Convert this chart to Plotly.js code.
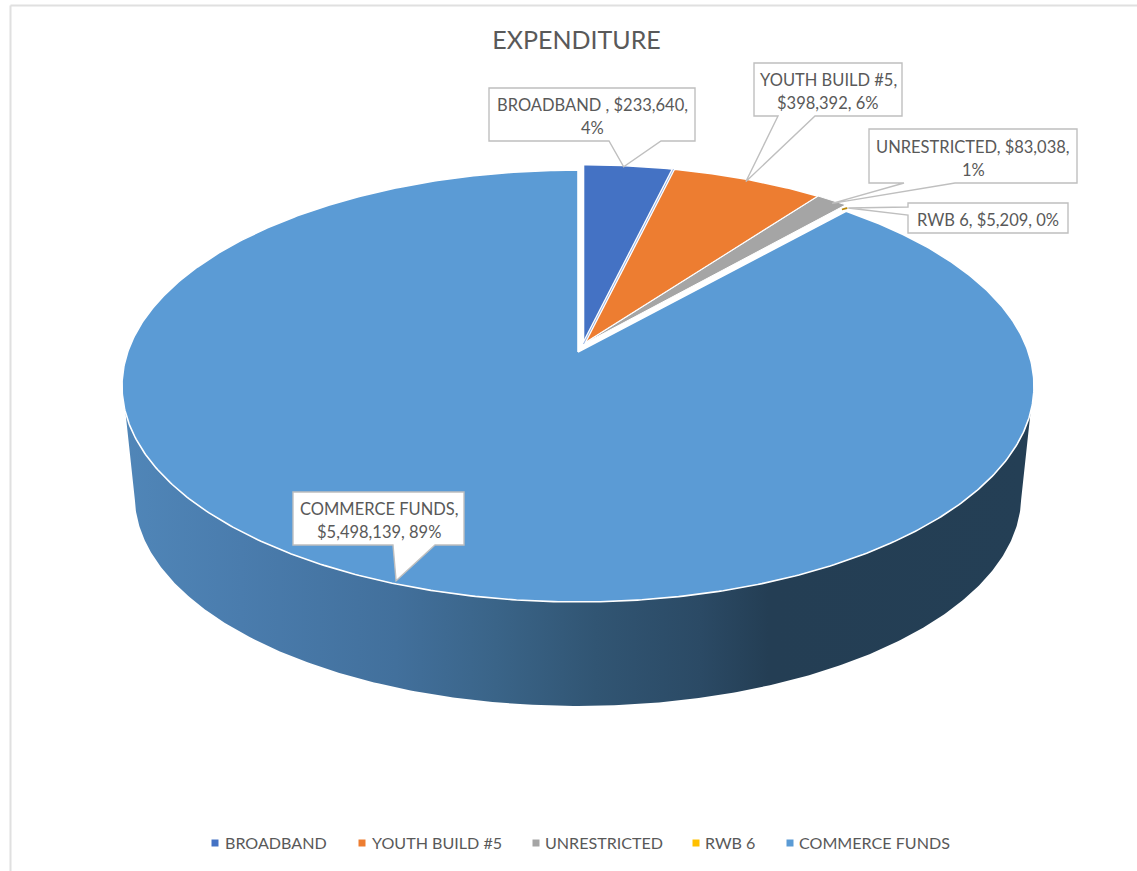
<!DOCTYPE html>
<html>
<head>
<meta charset="utf-8">
<title>Expenditure</title>
<script src="https://cdn.plot.ly/plotly-3.0.1.min.js"></script>
<style>html,body{margin:0;padding:0;background:#fff}#chart{width:1137px;height:871px}</style>
</head>
<body>
<div id="chart"></div>
<script>
// Expenditure by funding source
const categories = ['BROADBAND', 'YOUTH BUILD #5', 'UNRESTRICTED', 'RWB 6', 'COMMERCE FUNDS'];
const amounts = [233640, 398392, 83038, 5209, 5498139];
const sliceColors = ['#4472c4', '#ed7d31', '#a5a5a5', '#b8860b', '#5b9bd5'];
const legendColors = ['#4472c4', '#ed7d31', '#a5a5a5', '#ffc000', '#5b9bd5'];
const labelLines = [
  ['BROADBAND , $233,640,', '4%'],
  ['YOUTH BUILD #5,', '$398,392, 6%'],
  ['UNRESTRICTED, $83,038,', '1%'],
  ['RWB 6, $5,209, 0%'],
  ['COMMERCE FUNDS,', '$5,498,139, 89%']
];

// Callout boxes: left, right, top, bottom, and the pointer's root on the box edge
const calloutBoxes = [
  {l: 489, r: 695, t: 88, b: 141, root: [609, 661], edge: 'bottom', nudge: [-5, 1]},
  {l: 754, r: 902, t: 63, b: 116, root: [778, 815], edge: 'bottom', nudge: [-2, 2]},
  {l: 869, r: 1077, t: 129, b: 183, root: [904, 955], edge: 'bottom', nudge: [0, 3]},
  {l: 908, r: 1068, t: 203, b: 233, root: [207, 215], edge: 'left', nudge: [2, 0]},
  {l: 293, r: 464, t: 492, b: 545, root: [393, 435], edge: 'bottom', nudge: [6, -2]}
];

const legendMarkerX = [215, 362, 536, 696, 790];
const legendTextX = [225, 372, 545, 705, 799];

// Tilted-disc projection: apex position, half axes and perspective strength
const PERSPECTIVE = 0.1574;
const RX = 450.3, RY = 210.6;
const commerceApex = {x: 578, y: 352, scale: 1};
const restApex = {x: 583.5, y: 344, scale: 0.985};
const rwbApex = {x: 581, y: 348, scale: 0.993};
const wallApex = {x: 578, y: 463, scale: 0.972};

function project(apex, deg, radius) {
  const t = deg * Math.PI / 180, X = Math.sin(t) * radius, Y = Math.cos(t) * radius;
  const w = 1 + PERSPECTIVE * Y;
  return [apex.x + apex.scale * RX * X / w, apex.y - apex.scale * RY * Y / w];
}

function arc(apex, from, to) {
  const pts = [], n = Math.max(2, Math.ceil(Math.abs(to - from) * 2));
  for (let i = 0; i <= n; i++) pts.push(project(apex, from + (to - from) * i / n, 1));
  return pts;
}

const total = amounts.reduce((a, b) => a + b, 0);
const starts = [];
amounts.reduce((sum, v, i) => { starts[i] = sum / total * 360; return sum + v; }, 0);
const ends = amounts.map((v, i) => starts[i] + v / total * 360);
const apexOf = i => i === 4 ? commerceApex : (i === 3 ? rwbApex : restApex);

const traces = [];

// Outer wall of the disc, shaded from left to right
const wallTop = arc(commerceApex, 106, 254);
const wallBottom = arc(wallApex, 260, 100);
const wallPts = wallTop.concat(wallBottom);
wallPts.push(wallTop[0]);
traces.push({
  type: 'scatter', mode: 'lines', hoverinfo: 'skip', showlegend: false,
  x: wallPts.map(p => p[0]), y: wallPts.map(p => p[1]),
  fill: 'toself', line: {width: 0, color: 'rgba(0,0,0,0)'},
  fillgradient: {
    type: 'horizontal', start: 123, stop: 1032,
    colorscale: [
      [0, '#5086b8'], [0.13, '#4a7cad'], [0.30, '#42709c'], [0.41, '#3a6488'],
      [0.52, '#315573'], [0.635, '#2b4a65'], [0.71, '#243e54'], [1, '#243f55']
    ]
  }
});

// Top face slices, largest one first so the small ones sit over its gap
[4, 0, 1, 2].forEach(i => {
  const apex = apexOf(i);
  const pts = [[apex.x, apex.y]].concat(arc(apex, starts[i], ends[i]));
  pts.push([apex.x, apex.y]);
  traces.push({
    type: 'scatter', mode: 'lines', name: categories[i], showlegend: false,
    x: pts.map(p => p[0]), y: pts.map(p => p[1]),
    fill: 'toself', fillcolor: sliceColors[i],
    line: {color: '#ffffff', width: i === 2 ? 1 : 1.6},
    text: labelLines[i].join(' '), hoverinfo: 'text', hoveron: 'fills'
  });
});

// The seam between the first two slices: white with a thread of blue inside
const seamFrom = [restApex.x, restApex.y];
const seamTo = project(restApex, ends[0], 1);
[['#ffffff', 3.4], ['#7f9fdc', 0.8]].forEach(([color, width]) => {
  traces.push({
    type: 'scatter', mode: 'lines', hoverinfo: 'skip', showlegend: false,
    x: [seamFrom[0], seamTo[0]], y: [seamFrom[1], seamTo[1]],
    line: {color, width}
  });
});

// The narrowest slice only shows at the rim, the rest closes up inside the white gap
const rimTip = project(rwbApex, starts[3], 0.985);
const rimPts = [rimTip].concat(arc(rwbApex, starts[3], ends[3]));
rimPts.push(rimTip);
traces.push({
  type: 'scatter', mode: 'lines', name: categories[3], showlegend: false,
  x: rimPts.map(p => p[0]), y: rimPts.map(p => p[1]),
  fill: 'toself', fillcolor: sliceColors[3],
  line: {color: sliceColors[3], width: 1.5},
  text: labelLines[3].join(' '), hoverinfo: 'text', hoveron: 'fills'
});

// Legend row
traces.push({
  type: 'scatter', mode: 'markers', hoverinfo: 'skip', showlegend: false,
  x: legendMarkerX, y: categories.map(() => 843),
  marker: {symbol: 'square', size: 7, color: legendColors}
});
traces.push({
  type: 'scatter', mode: 'text', hoverinfo: 'skip', showlegend: false,
  x: legendTextX, y: categories.map(() => 845),
  text: categories, textposition: 'middle right',
  textfont: {family: 'Lato, sans-serif', size: 16.1, color: '#595959'}
});

// Callout outlines point at the mid-angle of their slice on the rim
const calloutShapes = calloutBoxes.map((c, i) => {
  const tip = project(apexOf(i), (starts[i] + ends[i]) / 2, 1);
  const tx = tip[0] + c.nudge[0], ty = tip[1] + c.nudge[1];
  let d;
  if (c.edge === 'bottom') {
    d = `M${c.l},${c.t} L${c.r},${c.t} L${c.r},${c.b} L${c.root[1]},${c.b} L${tx},${ty} L${c.root[0]},${c.b} L${c.l},${c.b} Z`;
  } else {
    d = `M${c.l},${c.t} L${c.r},${c.t} L${c.r},${c.b} L${c.l},${c.b} L${c.l},${c.root[1]} L${tx},${ty} L${c.l},${c.root[0]} Z`;
  }
  return {type: 'path', path: d, xref: 'x', yref: 'y', layer: 'above',
          fillcolor: '#ffffff', line: {color: '#bfbfbf', width: 1.4}};
});

// Chart frame along the top and left
const frameShapes = [
  {type: 'line', xref: 'x', yref: 'y', x0: 10.5, x1: 1137, y0: 5.5, y1: 5.5, line: {color: '#e0e0e0', width: 2}, layer: 'below'},
  {type: 'line', xref: 'x', yref: 'y', x0: 10.5, x1: 10.5, y0: 5.5, y1: 871, line: {color: '#e0e0e0', width: 2}, layer: 'below'}
];

// Each label line is placed on its own to keep the wider line spacing
const LINE_STEP = 23;
const labelAnnotations = calloutBoxes.flatMap((c, i) => labelLines[i].map((line, j) => ({
  x: (c.l + c.r) / 2,
  y: (c.t + c.b) / 2 + 2 + (j - (labelLines[i].length - 1) / 2) * LINE_STEP,
  xref: 'x', yref: 'y', text: line, showarrow: false,
  font: {family: 'Lato, sans-serif', size: 16.5, color: '#595959'}
})));

const layout = {
  width: 1137, height: 871,
  margin: {l: 0, r: 0, t: 0, b: 0},
  paper_bgcolor: '#ffffff', plot_bgcolor: '#ffffff',
  showlegend: false,
  title: {
    text: 'EXPENDITURE', x: 576.5 / 1137, xref: 'paper', xanchor: 'center',
    y: 1 - 40 / 871, yref: 'paper', yanchor: 'middle',
    font: {family: 'Lato, sans-serif', size: 25, color: '#595959'}
  },
  xaxis: {range: [0, 1137], visible: false, fixedrange: true},
  yaxis: {range: [871, 0], visible: false, fixedrange: true},
  shapes: frameShapes.concat(calloutShapes),
  annotations: labelAnnotations
};

Plotly.newPlot('chart', traces, layout, {displayModeBar: false, responsive: false});
</script>
</body>
</html>
